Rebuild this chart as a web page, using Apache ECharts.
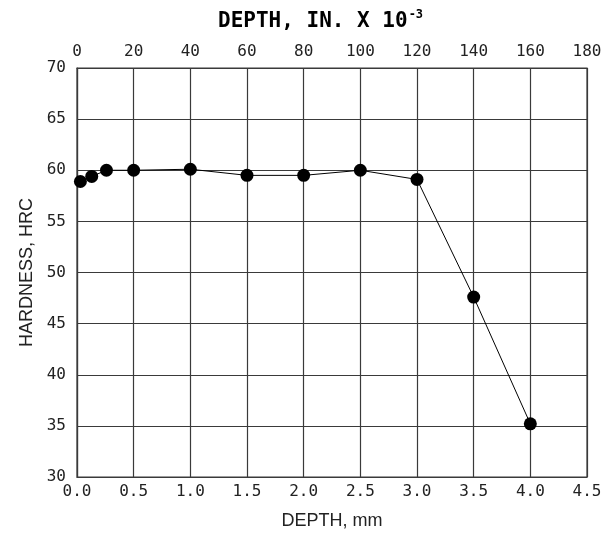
<!DOCTYPE html>
<html>
<head>
<meta charset="utf-8">
<script src="https://cdn.jsdelivr.net/npm/echarts@6/dist/echarts.min.js"></script>
<style>html,body{margin:0;padding:0;background:#fff;}#c{width:613px;height:535px;}</style>
</head>
<body>
<div id="c"></div>
<script>
// Data (depth in mm, hardness in HRC)
const depthMm = [0.03, 0.13, 0.26, 0.5, 1.0, 1.5, 2.0, 2.5, 3.0, 3.5, 4.0];
const hardness = [58.9, 59.4, 60.0, 60.0, 60.1, 59.5, 59.5, 60.0, 59.1, 47.6, 35.2];
const titleText = 'DEPTH, IN. X 10';
const titleSup = '-3';
const xName = 'DEPTH, mm';
const yName = 'HARDNESS, HRC';

const monoFont = 'DejaVu Sans Mono';
const chart = echarts.init(document.getElementById('c'), null, {renderer: 'canvas'});
const gridColor = '#3a3a3a';

chart.setOption({
  backgroundColor: '#fff',
  animation: false,
  title: {
    text: '{a|' + titleText + '}{s|' + titleSup + '}',
    left: 213, top: 4,
    textStyle: {
      rich: {
        a: {fontFamily: monoFont, fontWeight: 'bold', fontSize: 21, color: '#000'},
        s: {fontFamily: monoFont, fontWeight: 'bold', fontSize: 12, color: '#000', verticalAlign: 'top', padding: [0, 0, 14, 1]}
      }
    }
  },
  grid: {left: 77, right: 26, top: 68, bottom: 55, show: true, borderColor: gridColor, borderWidth: 1.2},
  xAxis: [
    {
      type: 'value', min: 0, max: 4.5, interval: 0.5, position: 'bottom',
      name: xName, nameLocation: 'middle', nameGap: 35,
      nameTextStyle: {fontFamily: 'Liberation Sans', fontSize: 18, color: '#222'},
      axisLine: {show: true, lineStyle: {color: gridColor, width: 1.2}},
      axisTick: {show: false},
      axisLabel: {fontFamily: monoFont, fontSize: 16, color: '#222', margin: 7,
        formatter: v => v.toFixed(1)},
      splitLine: {show: true, lineStyle: {color: gridColor, width: 1.2}}
    },
    {
      type: 'value', min: 0, max: 180, interval: 20, position: 'top',
      axisLine: {show: true, lineStyle: {color: gridColor, width: 1.2}},
      axisTick: {show: false},
      axisLabel: {fontFamily: monoFont, fontSize: 16, color: '#222', margin: 8},
      splitLine: {show: false}
    }
  ],
  yAxis: {
    type: 'value', min: 30, max: 70, interval: 5,
    name: yName, nameLocation: 'middle', nameGap: 34,
    nameTextStyle: {fontFamily: 'Liberation Sans', fontSize: 18, color: '#222'},
    axisLine: {show: true, lineStyle: {color: gridColor, width: 1.2}},
    axisTick: {show: false},
    axisLabel: {fontFamily: monoFont, fontSize: 16, color: '#222', margin: 11},
    splitLine: {show: true, lineStyle: {color: gridColor, width: 1.2}}
  },
  series: [{
    type: 'line',
    xAxisIndex: 0,
    data: depthMm.map((d, i) => [d, hardness[i]]),
    symbol: 'circle', symbolSize: 13,
    itemStyle: {color: '#000'},
    lineStyle: {color: '#000', width: 1},
    z: 5
  }]
});
</script>
</body>
</html>
